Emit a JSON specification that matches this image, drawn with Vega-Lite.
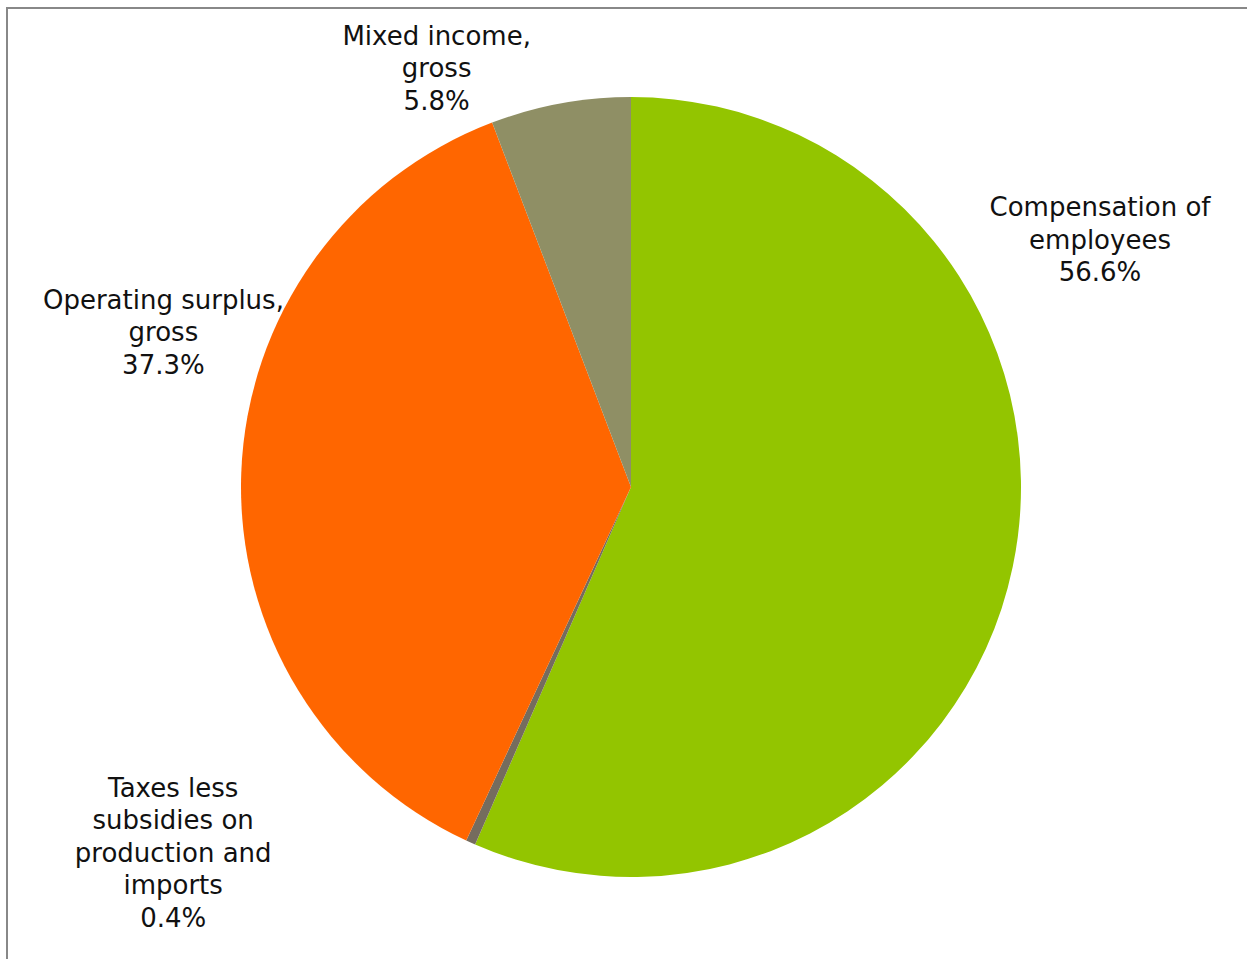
{
  "$schema": "https://vega.github.io/schema/vega-lite/v6.json",
  "width": 1248,
  "height": 958,
  "autosize": {"type": "none"},
  "padding": {"left": 7, "top": 8, "right": 0, "bottom": 0},
  "background": "white",
  "config": {"view": {"stroke": null}},
  "layer": [
    {
      "data": {"values": [{"frame": 1}]},
      "mark": {"type": "rect", "fill": null, "stroke": "#888888", "strokeWidth": 2},
      "encoding": {}
    },
    {
      "data": {
        "values": [
          {"category": "Compensation of employees", "label": "Compensation of\nemployees\n56.6%", "share": 56.6, "order": 1},
          {"category": "Taxes less subsidies on production and imports", "label": "Taxes less\nsubsidies on\nproduction and\nimports\n0.4%", "share": 0.4, "order": 2},
          {"category": "Operating surplus, gross", "label": "Operating surplus,\ngross\n37.3%", "share": 37.3, "order": 3},
          {"category": "Mixed income, gross", "label": "Mixed income,\ngross\n5.8%", "share": 5.8, "order": 4}
        ]
      },
      "transform": [
        {"stack": "share", "groupby": [], "sort": [{"field": "order", "order": "ascending"}], "as": ["t0", "t1"]}
      ],
      "encoding": {
        "theta": {"field": "t0", "type": "quantitative", "stack": null, "scale": {"domain": [0, 100.1]}}
      },
      "layer": [
        {
          "mark": {"type": "arc", "radius": 390},
          "encoding": {
            "theta2": {"field": "t1"},
            "color": {
              "field": "category",
              "type": "nominal",
              "scale": {
                "domain": ["Compensation of employees", "Taxes less subsidies on production and imports", "Operating surplus, gross", "Mixed income, gross"],
                "range": ["#93C500", "#756C5E", "#FF6600", "#8F8F65"]
              },
              "legend": null
            }
          }
        },
        {
          "transform": [{"filter": "datum.order == 1"}],
          "mark": {"type": "text", "radius": 470, "dx": 469, "dy": 191, "font": "DejaVu Sans", "fontSize": 26, "lineHeight": 32.5, "lineBreak": "\n", "color": "#111111", "align": "center", "baseline": "middle"},
          "encoding": {"text": {"field": "label"}}
        },
        {
          "transform": [{"filter": "datum.order == 2"}],
          "mark": {"type": "text", "radius": 470, "dx": -270, "dy": -129, "font": "DejaVu Sans", "fontSize": 26, "lineHeight": 32.5, "lineBreak": "\n", "color": "#111111", "align": "center", "baseline": "middle"},
          "encoding": {"text": {"field": "label"}}
        },
        {
          "transform": [{"filter": "datum.order == 3"}],
          "mark": {"type": "text", "radius": 470, "dx": -269, "dy": -612, "font": "DejaVu Sans", "fontSize": 26, "lineHeight": 32.5, "lineBreak": "\n", "color": "#111111", "align": "center", "baseline": "middle"},
          "encoding": {"text": {"field": "label"}}
        },
        {
          "transform": [{"filter": "datum.order == 4"}],
          "mark": {"type": "text", "radius": 470, "dx": -27, "dy": -11, "font": "DejaVu Sans", "fontSize": 26, "lineHeight": 32.5, "lineBreak": "\n", "color": "#111111", "align": "center", "baseline": "middle"},
          "encoding": {"text": {"field": "label"}}
        }
      ]
    }
  ]
}
